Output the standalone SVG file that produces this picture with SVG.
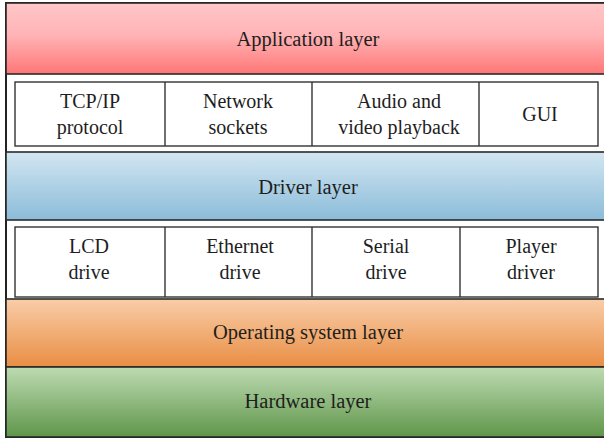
<svg xmlns="http://www.w3.org/2000/svg" width="604" height="439" viewBox="0 0 604 439">
  <defs>
    <linearGradient id="gApp" x1="0" y1="0" x2="0" y2="1">
      <stop offset="0" stop-color="#ffc6c8"/>
      <stop offset="0.45" stop-color="#ffb4b6"/>
      <stop offset="1" stop-color="#ff7676"/>
    </linearGradient>
    <linearGradient id="gDrv" x1="0" y1="0" x2="0" y2="1">
      <stop offset="0" stop-color="#d2e6f1"/>
      <stop offset="1" stop-color="#8bbcd9"/>
    </linearGradient>
    <linearGradient id="gOs" x1="0" y1="0" x2="0" y2="1">
      <stop offset="0" stop-color="#f9cda8"/>
      <stop offset="1" stop-color="#e98e44"/>
    </linearGradient>
    <linearGradient id="gHw" x1="0" y1="0" x2="0" y2="1">
      <stop offset="0" stop-color="#bedbb2"/>
      <stop offset="1" stop-color="#5f964a"/>
    </linearGradient>
  </defs>
  <style>
    .band { stroke: #2a2a2a; stroke-width: 1.6; }
    .cell { fill: #ffffff; stroke: #333333; stroke-width: 1.4; }
    .div { stroke: #333333; stroke-width: 1.4; }
    text { font-family: "Liberation Serif", "DejaVu Serif", serif; fill: #1e1e1e; text-anchor: middle; }
    .big { font-size: 20.5px; }
    .small { font-size: 20px; }
  </style>

  <!-- outer frame -->
  <rect x="6" y="3" width="610" height="434" fill="#ffffff" stroke="#222222" stroke-width="2"/>

  <g id="application-layer">
    <rect class="band" x="6" y="3" width="610" height="71" fill="url(#gApp)"/>
    <text class="big" x="308" y="46">Application layer</text>
  </g>

  <g id="application-modules">
    <rect class="cell" x="15" y="82" width="583" height="64"/>
    <line class="div" x1="165" y1="82" x2="165" y2="146"/>
    <line class="div" x1="312" y1="82" x2="312" y2="146"/>
    <line class="div" x1="479" y1="82" x2="479" y2="146"/>
    <text class="small" x="90" y="108">TCP/IP</text>
    <text class="small" x="90" y="134">protocol</text>
    <text class="small" x="238" y="108">Network</text>
    <text class="small" x="238" y="134">sockets</text>
    <text class="small" x="399" y="108">Audio and</text>
    <text class="small" x="399" y="134">video playback</text>
    <text class="small" x="540" y="121">GUI</text>
  </g>

  <g id="driver-layer">
    <rect class="band" x="6" y="152" width="610" height="68" fill="url(#gDrv)"/>
    <text class="big" x="308" y="194">Driver layer</text>
  </g>

  <g id="driver-modules">
    <rect class="cell" x="15" y="227" width="583" height="70"/>
    <line class="div" x1="165" y1="227" x2="165" y2="297"/>
    <line class="div" x1="312" y1="227" x2="312" y2="297"/>
    <line class="div" x1="460" y1="227" x2="460" y2="297"/>
    <text class="small" x="89" y="253">LCD</text>
    <text class="small" x="89" y="279">drive</text>
    <text class="small" x="240" y="253">Ethernet</text>
    <text class="small" x="240" y="279">drive</text>
    <text class="small" x="386" y="253">Serial</text>
    <text class="small" x="386" y="279">drive</text>
    <text class="small" x="531" y="253">Player</text>
    <text class="small" x="531" y="279">driver</text>
  </g>

  <g id="os-layer">
    <rect class="band" x="6" y="299" width="610" height="68" fill="url(#gOs)"/>
    <text class="big" x="308" y="339">Operating system layer</text>
  </g>

  <g id="hardware-layer">
    <rect class="band" x="6" y="367" width="610" height="70" fill="url(#gHw)"/>
    <text class="big" x="308" y="408">Hardware layer</text>
  </g>

  <g id="connectors"/>
</svg>
